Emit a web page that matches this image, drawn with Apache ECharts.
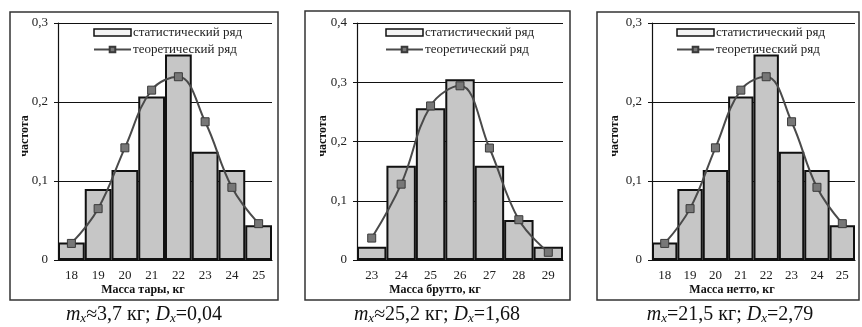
<!DOCTYPE html>
<html><head><meta charset="utf-8">
<script src="https://cdn.jsdelivr.net/npm/echarts@6/dist/echarts.min.js"></script>
<style>html,body{margin:0;padding:0;background:#fff}#c{width:862px;height:327px}</style>
</head><body><div id="c"></div>
<script>
const cats1 = ['18','19','20','21','22','23','24','25'];
const stat1 = [0.022,0.090,0.114,0.207,0.260,0.137,0.114,0.044];
const theo1 = [0.021,0.065,0.142,0.215,0.232,0.175,0.092,0.046];
const cats2 = ['23','24','25','26','27','28','29'];
const stat2 = [0.0225,0.159,0.256,0.305,0.159,0.0675,0.0225];
const theo2 = [0.037,0.128,0.260,0.294,0.189,0.068,0.013];
const cats3 = ['18','19','20','21','22','23','24','25'];
const stat3 = [0.022,0.090,0.114,0.207,0.260,0.137,0.114,0.044];
const theo3 = [0.021,0.065,0.142,0.215,0.232,0.175,0.092,0.046];
const yMax = [0.3, 0.4, 0.3];
const xNames = ['Масса тары, кг','Масса брутто, кг','Масса нетто, кг'];
const yName = 'частота';
const statName = 'статистический ряд';
const theoName = 'теоретический ряд';
const captions = [['≈3,7 кг; ','=0,04'],['≈25,2 кг; ','=1,68'],['=21,5 кг; ','=2,79']];

const serif = '"Liberation Serif","DejaVu Serif",serif';
const grids = [
  {left:58, top:23, width:214, height:237},
  {left:357, top:23, width:206, height:237},
  {left:652, top:23, width:203, height:237}
];
const frames = [
  {x:10, y:12, w:268, h:288, cx:144, nx:143, yx:25, lx:93},
  {x:305, y:11, w:265, h:289, cx:437, nx:435, yx:323, lx:385},
  {x:597, y:12, w:262, h:288, cx:730, nx:732, yx:615, lx:676}
];
const catsAll = [cats1, cats2, cats3];
const statAll = [stat1, stat2, stat3];
const theoAll = [theo1, theo2, theo3];

const fmt = v => v === 0 ? '0' : v.toFixed(1).replace('.', ',');

const option = {
  backgroundColor:'#fff',
  animation:false,
  grid: grids,
  xAxis: catsAll.map((c,i)=>({
    type:'category', gridIndex:i, data:c,
    axisLine:{show:true, lineStyle:{color:'#111', width:1.2}},
    axisTick:{show:false},
    axisLabel:{color:'#222', fontFamily:serif, fontSize:13, margin:9}
  })),
  yAxis: yMax.map((m,i)=>({
    type:'value', gridIndex:i, min:0, max:m, interval:0.1,
    axisLine:{show:true, lineStyle:{color:'#111', width:1.2}},
    axisTick:{show:true, length:4, lineStyle:{color:'#111'}},
    splitLine:{show:true, lineStyle:{color:'#111', width:1}},
    axisLabel:{color:'#222', fontFamily:serif, fontSize:13, margin:10, formatter:fmt}
  })),
  legend: frames.map((f,i)=>({
    orient:'vertical', left:f.lx, top:26, padding:0, itemWidth:37, itemHeight:7, itemGap:4,
    textStyle:{fontFamily:serif, fontSize:13, color:'#222', padding:[0,0,0,-3]},
    data:[
      {name:statName, icon:'rect', itemStyle:{color:'#f4f4f4', borderColor:'#111', borderWidth:1.5}},
      {name:theoName}
    ]
  })),
  series: [].concat(...[0,1,2].map(i=>[
    {type:'bar', name:statName, xAxisIndex:i, yAxisIndex:i, data:statAll[i],
     barCategoryGap:'0%', z:2,
     itemStyle:{color:'#c6c6c6', borderColor:'#111', borderWidth:2}},
    {type:'line', name:theoName, xAxisIndex:i, yAxisIndex:i, data:theoAll[i],
     smooth:0.4, z:5, symbol:'rect', symbolSize:8,
     lineStyle:{color:'#4a4a4a', width:2},
     itemStyle:{color:'#777', borderColor:'#3a3a3a', borderWidth:1}}
  ])),
  graphic: [].concat(...frames.map((f,i)=>[
    {type:'rect', shape:{x:f.x, y:f.y, width:f.w, height:f.h}, silent:true, z:-1,
     style:{fill:null, stroke:'#333', lineWidth:1.5}},
    {type:'text', x:f.nx, y:290, silent:true,
     style:{text:xNames[i], fill:'#111', font:'bold 12px '+serif, align:'center', verticalAlign:'middle'}},
    {type:'text', x:f.yx, y:136, rotation:Math.PI/2, silent:true,
     style:{text:yName, fill:'#111', font:'bold 12px '+serif, align:'center', verticalAlign:'middle'}},
    {type:'text', x:f.cx, y:315, silent:true,
     style:{
       text:'{i|m}{s|x}{n|'+captions[i][0]+'}{i|D}{s|x}{n|'+captions[i][1]+'}',
       align:'center', verticalAlign:'middle',
       rich:{
         n:{fontFamily:serif, fontSize:20, fill:'#111', lineHeight:20},
         i:{fontFamily:serif, fontSize:20, fontStyle:'italic', fill:'#111', lineHeight:20},
         s:{fontFamily:serif, fontSize:13, fontStyle:'italic', fill:'#111', lineHeight:10, verticalAlign:'bottom'}
       }
     }}
  ]))
};
const chart = echarts.init(document.getElementById('c'), null, {renderer:'canvas'});
chart.setOption(option);
</script>
</body></html>
